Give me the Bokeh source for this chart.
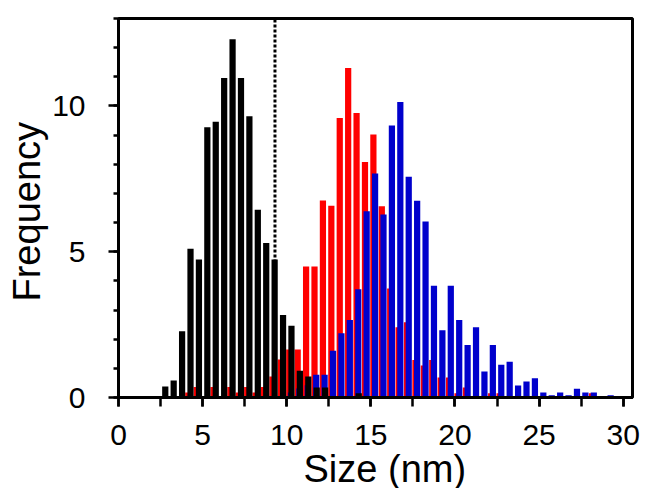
from bokeh.plotting import figure
from bokeh.models import Range1d, SingleIntervalTicker, ColumnDataSource, Title
from bokeh.transform import dodge
from bokeh.embed import file_html
from bokeh.resources import INLINE

# ---- data (bin centres in nm, frequency in %) ----
black_size = [2.75, 3.25, 3.75, 4.25, 4.75, 5.25, 5.75, 6.25, 6.75, 7.25, 7.75, 8.25,
              8.75, 9.25, 9.75, 10.25, 10.75, 11.25, 11.75, 12.25, 12.75, 13.25, 13.75, 14.25]
black_freq = [0.38, 0.58, 2.27, 5.10, 4.73, 9.27, 9.46, 10.96, 12.29, 10.96, 9.65, 6.44,
              5.30, 4.73, 2.83, 2.46, 0.92, 0.72, 0.34, 0.34, 0.0, 0.0, 0.0, 0.15]

red_size = [4.25, 4.75, 5.25, 5.75, 6.25, 6.75, 7.25, 7.75, 8.25, 8.75, 9.25, 9.75,
            10.25, 10.75, 11.25, 11.75, 12.25, 12.75, 13.25, 13.75, 14.25, 14.75, 15.25, 15.75,
            16.25, 16.75, 17.25, 17.75, 18.25, 18.75, 19.25, 19.75, 20.25, 20.75, 21.25, 21.75,
            22.25, 22.75, 23.25, 23.75, 24.25, 24.75, 25.25, 25.75, 26.25, 26.75, 27.25, 27.75, 28.25]
red_freq = [0.17, 0.36, 0.0, 0.36, 0.0, 0.36, 0.17, 0.36, 0.17, 0.36, 0.72, 1.30,
            1.65, 1.65, 4.49, 4.49, 6.76, 6.58, 9.59, 11.30, 9.76, 8.08, 9.02, 6.56,
            3.74, 2.41, 2.58, 1.29, 1.10, 1.29, 0.69, 0.69, 0.15, 0.34, 0.0, 0.0,
            0.15, 0.15, 0.0, 0.0, 0.0, 0.0, 0.0, 0.0, 0.0, 0.0, 0.0, 0.0, 0.15]

blue_size = [10.25, 10.75, 11.25, 11.75, 12.25, 12.75, 13.25, 13.75, 14.25, 14.75, 15.25, 15.75,
             16.25, 16.75, 17.25, 17.75, 18.25, 18.75, 19.25, 19.75, 20.25, 20.75, 21.25, 21.75,
             22.25, 22.75, 23.25, 23.75, 24.25, 24.75, 25.25, 25.75, 26.25, 26.75, 27.25, 27.75,
             28.25, 28.75, 29.25]
blue_freq = [0.17, 0.31, 0.42, 0.78, 0.78, 1.60, 2.20, 2.66, 3.71, 6.39, 7.68, 6.28,
             9.33, 10.14, 7.57, 6.75, 6.04, 3.83, 2.31, 3.83, 2.66, 1.80, 2.41, 0.89,
             1.80, 1.12, 1.23, 0.41, 0.55, 0.66, 0.17, 0.08, 0.17, 0.08, 0.30, 0.17,
             0.17, 0.0, 0.08]

cutoff_size = 9.3

x_title = "Size (nm)"
y_title = "Frequency"

FONT = "Liberation Sans"

p = figure(width=649, height=488, output_backend="svg", toolbar_location=None,
           x_range=Range1d(0, 30.55), y_range=Range1d(0, 13),
           min_border_left=118, min_border_right=17, min_border_top=18, min_border_bottom=91)
p.grid.visible = False
p.background_fill_color = "white"
p.border_fill_color = "white"
p.outline_line_color = "black"
p.outline_line_width = 3
p.outline_line_alpha = 1.0

# dotted cut-off line (behind bars)
p.segment(x0=[cutoff_size], y0=[0], x1=[cutoff_size], y1=[13],
          line_color="black", line_width=3, line_dash="3 2")

bw = 0.37
src_r = ColumnDataSource(dict(x=red_size, top=red_freq))
src_b = ColumnDataSource(dict(x=blue_size, top=blue_freq))
src_k = ColumnDataSource(dict(x=black_size, top=black_freq))
p.vbar(x=dodge("x", -0.10, range=p.x_range), top="top", bottom=0, width=bw,
       source=src_r, fill_color="#ff0000", line_color=None)
p.vbar(x=dodge("x", 0.0, range=p.x_range), top="top", bottom=0, width=bw,
       source=src_b, fill_color="#0000cc", line_color=None)
p.vbar(x=dodge("x", 0.03, range=p.x_range), top="top", bottom=0, width=bw,
       source=src_k, fill_color="#000000", line_color=None)

# x axis
xa = p.xaxis[0]
xa.ticker = SingleIntervalTicker(interval=5, num_minor_ticks=2)
xa.major_tick_out = 9
xa.major_tick_in = 0
xa.minor_tick_out = 9
xa.minor_tick_in = 0
xa.major_label_standoff = 18

# y axis
ya = p.yaxis[0]
ya.ticker = SingleIntervalTicker(interval=5, num_minor_ticks=5)
ya.major_tick_out = 10
ya.major_tick_in = 0
ya.minor_tick_out = 5
ya.minor_tick_in = 0
ya.major_label_standoff = 23

for ax in (xa, ya):
    ax.axis_line_width = 3
    ax.axis_line_color = "black"
    ax.major_tick_line_width = 2.5
    ax.minor_tick_line_width = 2.5
    ax.major_tick_line_color = "black"
    ax.minor_tick_line_color = "black"
    ax.major_label_text_font = FONT
    ax.major_label_text_font_size = "30px"
    ax.major_label_text_color = "black"

# axis titles as Title panels (left-aligned with an offset, to sit slightly off-centre like the original)
p.add_layout(Title(text=x_title, align="left", offset=185, standoff=-4,
                   text_font=FONT, text_font_size="38px", text_font_style="normal",
                   text_color="black"), "below")
p.add_layout(Title(text=y_title, align="left", offset=96, standoff=3,
                   text_font=FONT, text_font_size="38px", text_font_style="normal",
                   text_color="black"), "left")

open("out.html", "w").write(file_html(p, INLINE))
